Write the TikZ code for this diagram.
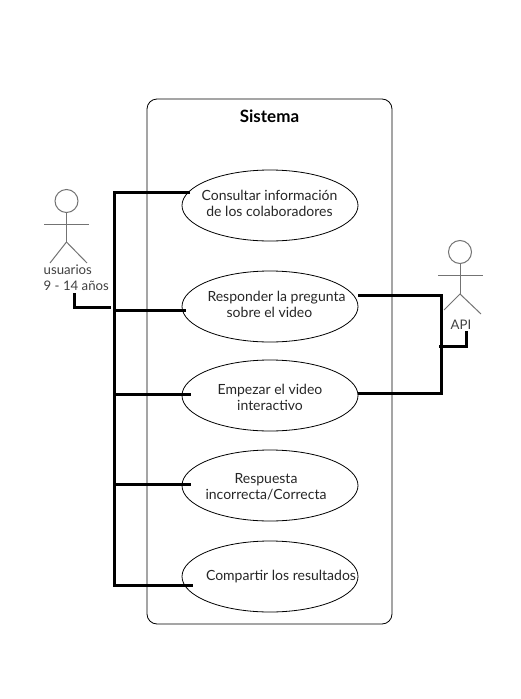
\documentclass[tikz,border=0pt]{standalone}
\usepackage{fontspec}
\setmainfont{Lato}
\usepackage{tikz}
\usetikzlibrary{shapes.geometric,positioning}
\tikzset{
    sistema/.style={draw, rounded corners=10pt, line width=0.8pt},
    usecase/.style={draw, ellipse, minimum width=176pt, minimum height=71pt, inner sep=0pt, line width=0.8pt},
    casetext/.style={align=center, font=\fontsize{14}{16}\selectfont, text=black!85, inner sep=0pt},
    actortext/.style={align=left, font=\fontsize{13.2}{16}\selectfont, text=black!75, inner sep=0pt},
    titletext/.style={font=\fontsize{17}{20}\selectfont\bfseries, inner sep=0pt},
    link/.style={line width=3pt, line join=miter},
    actor/.style={draw=black!55, line width=1pt},
    head/.style={draw=black!55, circle, line width=1pt, minimum size=23pt, inner sep=0pt}
}

\begin{document}
\begin{tikzpicture}[x=1pt, y=-1pt]
            \useasboundingbox (0,0) rectangle (521,699);

            % sistema
            \node[sistema, minimum width=245pt, minimum height=525pt] (sis) at (269.5,361.5) {};
            \node[titletext] (sistitle) at (269.5,116) {Sistema};

            % casos de uso
            \node[usecase] (c1) at (270,205.5) {};
            \node[usecase] (c2) at (270,306.5) {};
            \node[usecase] (c3) at (270,395.5) {};
            \node[usecase] (c4) at (270,485.5) {};
            \node[usecase] (c5) at (270,576.5) {};
            \node[casetext] (t1) at (269.5,203.5) {Consultar información\\de los colaboradores};
            \node[casetext] (t2) at (276.5,304.5) {Responder la pregunta\\\hspace*{-14pt}sobre el video};
            \node[casetext] (t3) at (270,397.5) {Empezar el video\\interactivo};
            \node[casetext] (t4) at (266,486.5) {Respuesta\\incorrecta/Correcta};
            \node[casetext] (t5) at (281,576.5) {Compartir los resultados};

            % actor usuarios
            \node[head] (h1) at (66.5,201) {};
            \coordinate (n1) at (66.5,242);
            \coordinate (al1) at (44,224);
            \coordinate (ar1) at (89,224);
            \coordinate (ll1) at (50,263);
            \coordinate (lr1) at (87,263);
            \draw[actor] (h1) -- (n1);
            \draw[actor] (al1) -- (ar1);
            \draw[actor] (ll1) -- (n1) -- (lr1);
            \node[actortext, anchor=north west] (usu) at (43.5,265) {usuarios\\9 - 14 años};

            % actor API
            \node[head] (h2) at (460,252) {};
            \coordinate (n2) at (460,294);
            \coordinate (al2) at (438,275);
            \coordinate (ar2) at (483,275);
            \coordinate (ll2) at (444,310);
            \coordinate (lr2) at (481,314);
            \draw[actor] (h2) -- (n2);
            \draw[actor] (al2) -- (ar2);
            \draw[actor] (ll2) -- (n2) -- (lr2);
            \node[actortext] (api) at (461,325) {API};

            % conectores usuarios
            \coordinate (bustop) at (114,192);
            \coordinate (busbot) at (114,585);
            \coordinate (b2) at (114,310);
            \coordinate (b3) at (114,394);
            \coordinate (b4) at (114,484);
            \coordinate (e1) at (190,192);
            \coordinate (e2) at (186,310);
            \coordinate (e3) at (191,394);
            \coordinate (e4) at (191,484);
            \coordinate (e5) at (193,585);
            \coordinate (u1) at (74,293);
            \coordinate (u2) at (74,307);
            \coordinate (u3) at (111,307);
            \draw[link] (e1) -- (bustop) -- (busbot) -- (e5);
            \draw[link] (b2) -- (e2);
            \draw[link] (b3) -- (e3);
            \draw[link] (b4) -- (e4);
            \draw[link] (u1) -- (u2) -- (u3);

            % conectores API
            \coordinate (r1) at (358,295);
            \coordinate (r2) at (358,393.5);
            \coordinate (rtop) at (441,295);
            \coordinate (rbot) at (441,393.5);
            \coordinate (v1) at (466,331);
            \coordinate (v2) at (466,346);
            \coordinate (v3) at (439,346);
            \draw[link] (r1) -- (rtop) -- (rbot) -- (r2);
            \draw[link] (v1) -- (v2) -- (v3);
        \end{tikzpicture}
\end{document}
